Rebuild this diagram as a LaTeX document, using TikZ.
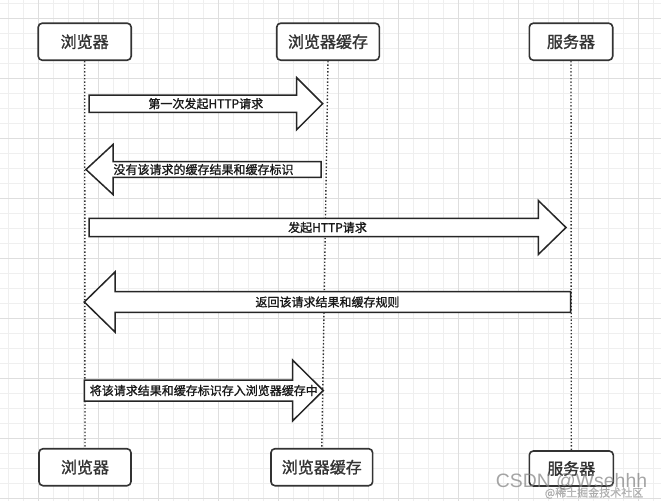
\documentclass[tikz,border=0pt]{standalone}
\usepackage{fontspec}
\usepackage{tikz}
\usetikzlibrary{calc}
\newfontfamily\cjk[FakeBold=1.3]{Noto Sans CJK SC}
\newfontfamily\wmfont{Liberation Sans}
\definecolor{boxline}{HTML}{333333}
\definecolor{gridminor}{HTML}{EFEFEF}
\definecolor{gridmajor}{HTML}{DEDEDE}
\tikzset{
  actor/.style={draw=boxline, line width=1.6pt, rounded corners=4pt, fill=white, text=boxline,
    minimum height=37pt, inner sep=0pt, font=\cjk\fontsize{16}{19}\selectfont},
  lifeline/.style={line width=1.4pt, dotted, black!80},
  msg/.style={draw=black!85, line width=1.5pt, fill=white, line join=miter},
  msglabel/.style={inner sep=0pt, text=black!90, font=\cjk\fontsize{12}{14}\selectfont},
}
\begin{document}
\begin{tikzpicture}[x=1pt, y=-1pt]
\useasboundingbox (0,0) rectangle (661,501);
\fill[white] (0,0) rectangle (661,501);
% grid
\foreach \gx in {8.3,23.3,...,660} \draw[gridminor, line width=0.8pt] (\gx,0) -- (\gx,501);
\foreach \gy in {3.3,18.3,...,500} \draw[gridminor, line width=0.8pt] (0,\gy) -- (661,\gy);
\foreach \gx in {38.3,98.3,...,660} \draw[gridmajor, line width=0.9pt] (\gx,0) -- (\gx,501);
\foreach \gy in {18.3,78.3,...,500} \draw[gridmajor, line width=0.9pt] (0,\gy) -- (661,\gy);

% actors, top and bottom
\node[actor, minimum width=93pt]    (browser)  at (84.7,41.7)  {浏览器};
\node[actor, minimum width=102.6pt] (cache)    at (328,41.7)   {浏览器缓存};
\node[actor, minimum width=83.4pt]  (server)   at (571,41.7)   {服务器};
\node[actor, minimum width=92pt]    (browserB) at (85,467.2)   {浏览器};
\node[actor, minimum width=101.7pt] (cacheB)   at (321.8,467.2) {浏览器缓存};
\node[actor, minimum width=84pt, minimum height=35pt] (serverB) at (571.3,468.5) {服务器};

\draw[lifeline] (browser.south) -- (browserB.north);
\draw[lifeline] (cache.south)   -- (cacheB.north);
\draw[lifeline] (server.south)  -- (serverB.north);

% messages
\draw[msg] (89,95) -- (296.7,95) -- (296.7,77.7) -- (322.7,103.7) -- (296.7,129.7)
  -- (296.7,112.3) -- (89,112.3) -- cycle;
\node[msglabel] (m1) at (205.8,103.7) {第一次发起HTTP请求};

\draw[msg] (321,161.7) -- (113,161.7) -- (113,144.5) -- (86,169.5) -- (113,194.5)
  -- (113,177.3) -- (321,177.3) -- cycle;
\node[msglabel] (m2) at (203.5,169.5) {没有该请求的缓存结果和缓存标识};

\draw[msg] (89,218.3) -- (538.3,218.3) -- (538.3,200.5) -- (566,227.5) -- (538.3,254.5)
  -- (538.3,236.7) -- (89,236.7) -- cycle;
\node[msglabel] (m3) at (327.5,227.5) {发起HTTP请求};

\draw[msg] (570.7,291.7) -- (115,291.7) -- (115,272) -- (84.3,302) -- (115,332)
  -- (115,312.3) -- (570.7,312.3) -- cycle;
\node[msglabel] (m4) at (327.5,302) {返回该请求结果和缓存规则};

\draw[msg] (84.3,380) -- (292.7,380) -- (292.7,360.2) -- (323.3,390.5) -- (292.7,420.8)
  -- (292.7,401) -- (84.3,401) -- cycle;
\node[msglabel] (m5) at (203.8,390.5) {将该请求结果和缓存标识存入浏览器缓存中};

% watermark
\node[inner sep=0pt, text=gray, opacity=0.7, font=\wmfont\fontsize{19.4}{22}\selectfont] (wm) at (571.5,482) {CSDN @Wsehhh};
\node[inner sep=0pt, text=gray, opacity=0.5, font=\cjk\fontsize{11}{13}\selectfont] (wm2) at (594,493) {@稀土掘金技术社区};
\end{tikzpicture}
\end{document}
